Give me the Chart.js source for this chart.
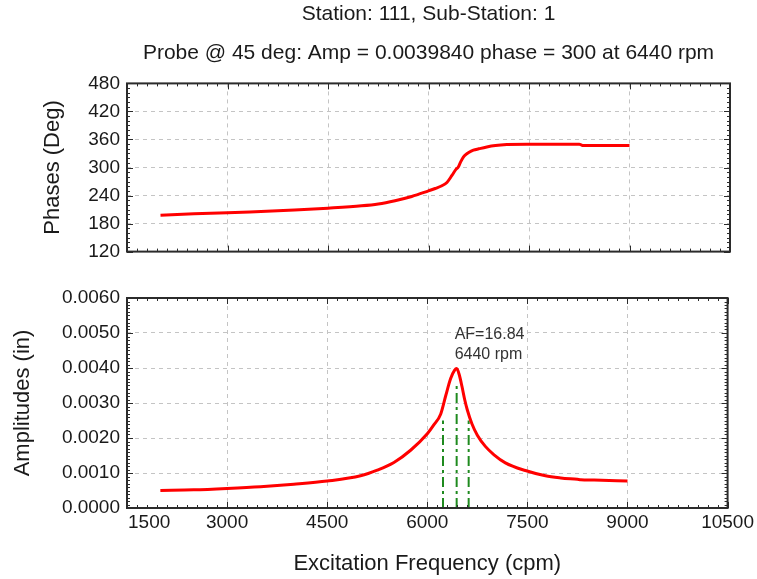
<!DOCTYPE html>
<html>
<head>
<meta charset="utf-8">
<script src="https://cdn.jsdelivr.net/npm/chart.js@4.4.1/dist/chart.umd.min.js"></script>
<style>
  body { margin: 0; background: #fff; }
  #wrap { position: relative; width: 757px; height: 579px; }
  .box { position: absolute; left: 0; width: 757px; }
</style>
</head>
<body>
<div id="wrap">
  <div class="box" style="top:0;height:270px"><canvas id="chartPhase"></canvas></div>
  <div class="box" style="top:270px;height:309px"><canvas id="chartAmp"></canvas></div>
</div>
<script>
  var title1 = "Station: 111, Sub-Station: 1";
  var title2 = "Probe @ 45 deg: Amp = 0.0039840 phase = 300 at 6440 rpm";

  // excitation frequency (cpm)
  var freq = [2000, 2500, 3000, 3500, 4000, 4500, 5000, 5250, 5500, 5750, 6000, 6100, 6200, 6275, 6350, 6410, 6440,
              6480, 6520, 6560, 6600, 6670, 6750, 6870, 7000, 7170, 7470, 7770, 8000, 8250, 8300, 8500, 9000];
  var phase = [198, 201, 203, 206, 209, 213, 218, 222, 229, 238, 250, 255, 261, 268, 283, 296, 300,
               312, 322, 328, 332, 337, 340, 344, 347, 349, 350, 350, 350, 350, 347, 347, 347];
  var amp = [0.00050, 0.00052, 0.00056, 0.00061, 0.00068, 0.00077, 0.00092, 0.00108, 0.00130, 0.00165, 0.00212, 0.00238, 0.00268, 0.00320, 0.00370, 0.00394, 0.003984,
             0.00380, 0.00347, 0.00310, 0.00280, 0.00240, 0.00208, 0.00176, 0.00152, 0.00129, 0.00107, 0.00092, 0.00086, 0.00082, 0.00081, 0.00080, 0.00077];

  // half power band markers
  var bandFreq = [6235, 6440, 6620];
  var bandTop = [0.0025, 0.0036, 0.0025];

  var peakRpm = 6440;
  var peakAmp = 0.003984;
  var afText = "AF=16.84";
  var rpmText = "6440 rpm";

  var xTicks = [1500, 3000, 4500, 6000, 7500, 9000, 10500];

  var FONT = "'Liberation Sans', Arial, sans-serif";
  var TEXT = "#1a1a1a";
  var GRID = "#c4c4c4";

  function toPoints(xs, ys) {
    var out = [];
    for (var i = 0; i < xs.length; i++) out.push({ x: xs[i], y: ys[i] });
    return out;
  }

  // frame + small inside tick marks
  function framePlugin(yMin, yStep, yCount, yMajor) {
    return {
      id: "frame",
      afterDraw: function(chart) {
        var a = chart.chartArea, c = chart.ctx;
        var xs = chart.scales.x, ys = chart.scales.y;
        c.save();
        c.strokeStyle = "#2b2b2b";
        c.lineWidth = 1;
        c.beginPath();
        for (var i = 0; i <= 60; i++) {
          var px = Math.round(xs.getPixelForValue(1500 + i * 150)) + 0.5;
          var len = i % 10 === 0 ? 6 : 3;
          c.moveTo(px, a.bottom); c.lineTo(px, a.bottom - len);
          c.moveTo(px, a.top); c.lineTo(px, a.top + len);
        }
        for (var j = 0; j <= yCount; j++) {
          var py = Math.round(ys.getPixelForValue(yMin + j * yStep)) + 0.5;
          var l2 = j % yMajor === 0 ? 6 : 3;
          c.moveTo(a.left, py); c.lineTo(a.left + l2, py);
          c.moveTo(a.right, py); c.lineTo(a.right - l2, py);
        }
        c.stroke();
        c.lineWidth = 2;
        c.strokeRect(a.left, a.top, a.right - a.left, a.bottom - a.top);
        c.restore();
      }
    };
  }

  var xBase = {
    type: "linear",
    min: 1500,
    max: 10500,
    afterBuildTicks: function(scale) {
      scale.ticks = xTicks.map(function(v) { return { value: v }; });
    },
    grid: { color: GRID, lineWidth: 1, drawTicks: false },
    border: { display: false, dash: [4, 4] }
  };

  // ---------- phase chart ----------
  new Chart(document.getElementById("chartPhase").getContext("2d"), {
    type: "line",
    data: {
      datasets: [{
        label: "Phase",
        data: toPoints(freq, phase),
        borderColor: "#ff0000",
        borderWidth: 3,
        pointRadius: 0,
        cubicInterpolationMode: "monotone"
      }]
    },
    options: {
      responsive: true,
      maintainAspectRatio: false,
      animation: false,
      layout: { padding: { left: 0, right: 27, top: 0, bottom: 12 } },
      plugins: {
        legend: { display: false },
        tooltip: { enabled: false },
        title: {
          display: true, text: title1, color: TEXT, fullSize: false,
          font: { family: FONT, size: 21, weight: "normal" },
          padding: { top: 2, bottom: 13 }
        },
        subtitle: {
          display: true, text: title2, color: TEXT, fullSize: false,
          font: { family: FONT, size: 21, weight: "normal" },
          padding: { top: 0, bottom: 18 }
        }
      },
      scales: {
        x: Object.assign({}, xBase, {
          ticks: { display: false },
          afterFit: function(s) { s.height = 0; }
        }),
        y: {
          min: 120, max: 480,
          ticks: { stepSize: 60, color: TEXT, padding: 7, font: { family: FONT, size: 19 } },
          grid: { color: GRID, lineWidth: 1, drawTicks: false },
          border: { display: false, dash: [4, 4] },
          title: { display: true, text: "Phases (Deg)", color: TEXT, font: { family: FONT, size: 22 }, padding: { top: 40 } },
          afterFit: function(s) { s.width = 127; }
        }
      }
    },
    plugins: [framePlugin(120, 10, 36, 6)]
  });

  // ---------- amplitude chart ----------
  var bandSets = bandFreq.map(function(f, i) {
    return {
      label: "band" + i,
      data: [{ x: f, y: 0 }, { x: f, y: bandTop[i] }],
      borderColor: "#1f8a1f",
      borderWidth: 2,
      borderDash: [10, 4, 3, 4],
      pointRadius: 0
    };
  });

  var notePlugin = {
    id: "note",
    afterDraw: function(chart) {
      var a = chart.chartArea, c = chart.ctx;
      var xs = chart.scales.x, ys = chart.scales.y;
      var px = xs.getPixelForValue(peakRpm);
      var py = ys.getPixelForValue(peakAmp);
      c.save();
      c.fillStyle = "#333";
      c.font = "16px " + FONT;
      c.textAlign = "left";
      c.textBaseline = "middle";
      c.fillText(afText, px - 2, py - 34);
      c.fillText(rpmText, px - 2, py - 14);
      // first x label sits inside the frame
      c.fillStyle = TEXT;
      c.font = "19px " + FONT;
      c.fillText(String(xTicks[0]), a.left + 1, a.bottom + 3 + 19 * 1.2 / 2);
      c.restore();
    }
  };

  new Chart(document.getElementById("chartAmp").getContext("2d"), {
    type: "line",
    data: {
      datasets: [{
        label: "Amplitude",
        data: toPoints(freq, amp),
        borderColor: "#ff0000",
        borderWidth: 3,
        pointRadius: 0,
        cubicInterpolationMode: "monotone"
      }].concat(bandSets)
    },
    options: {
      responsive: true,
      maintainAspectRatio: false,
      animation: false,
      layout: { padding: { left: 0, right: 27, top: 28, bottom: 0 } },
      plugins: {
        legend: { display: false },
        tooltip: { enabled: false }
      },
      scales: {
        x: Object.assign({}, xBase, {
          ticks: {
            color: TEXT, padding: 3, maxRotation: 0, autoSkip: false,
            font: { family: FONT, size: 19 },
            callback: function(v) { return v === xTicks[0] ? "" : String(v); }
          },
          title: { display: true, text: "Excitation Frequency (cpm)", color: TEXT, font: { family: FONT, size: 22 }, padding: { top: 0, bottom: 2 } },
          afterFit: function(s) { s.height = 71; }
        }),
        y: {
          min: 0, max: 0.006,
          ticks: {
            stepSize: 0.001, color: TEXT, padding: 7, font: { family: FONT, size: 19 },
            callback: function(v) { return Number(v).toFixed(4); }
          },
          grid: { color: GRID, lineWidth: 1, drawTicks: false },
          border: { display: false, dash: [4, 4] },
          title: { display: true, text: "Amplitudes (in)", color: TEXT, font: { family: FONT, size: 22 }, padding: { top: 10 } },
          afterFit: function(s) { s.width = 127; }
        }
      }
    },
    plugins: [framePlugin(0, 0.0001, 60, 10), notePlugin]
  });
</script>
</body>
</html>
